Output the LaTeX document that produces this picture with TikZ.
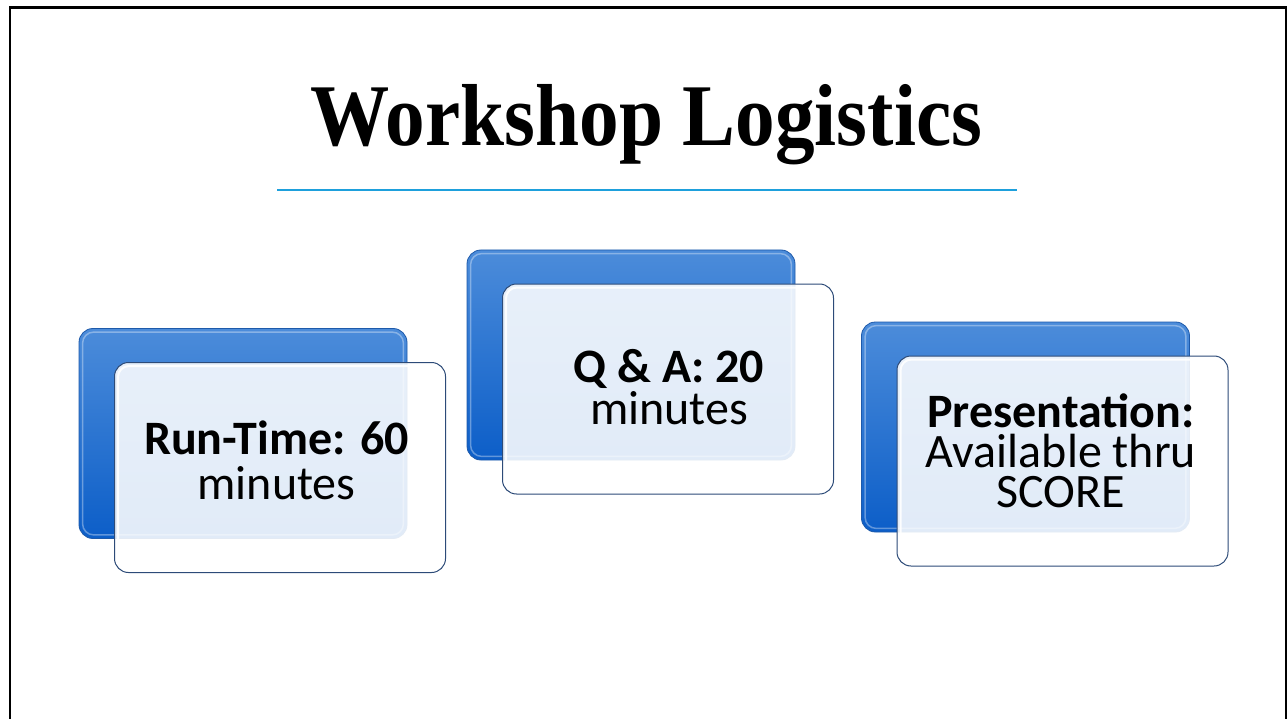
\documentclass[tikz,border=0pt]{standalone}
\usepackage{fontspec}
\usepackage{tikz}
\usetikzlibrary{calc, positioning}
\newfontfamily\titlefont{Liberation Serif}
\newfontfamily\cardfont{Carlito}
\definecolor{backtop}{RGB}{76,140,218}
\definecolor{backbot}{RGB}{12,94,200}
\definecolor{backline}{RGB}{30,90,170}
\definecolor{frontline}{RGB}{45,75,120}
\definecolor{ruleblue}{RGB}{30,160,220}

\begin{document}
\begin{tikzpicture}[x=1pt, y=-1pt,
    backcard/.style={rectangle, rounded corners=14pt, minimum width=328pt, minimum height=210pt,
        top color=backtop, bottom color=backbot, draw=backline, line width=0.8pt},
    frontcard/.style={rectangle, rounded corners=14pt, minimum width=331pt, minimum height=210pt,
        fill=white, fill opacity=0.88, draw=frontline, line width=1pt},
    cardtext/.style={align=center, inner sep=0pt, font=\cardfont\fontsize{48}{#1}\selectfont},
    cardtext/.default=42]

    % Page
    \useasboundingbox (0,0) rectangle (1287,719);
    \clip (0,0) rectangle (1287,719);
    \fill[white] (0,0) rectangle (1287,719);
    \draw[line width=2.5pt] (10,760) -- (10,7.5) -- (1286,7.5) -- (1286,760);

    % Title
    \node[font=\titlefont\bfseries\fontsize{88}{88}\selectfont, xscale=0.9, anchor=base] (title) at (646.5,146) {Workshop Logistics};
    \coordinate (ruleL) at (277,190);
    \coordinate (ruleR) at (1017,190);
    \draw[ruleblue, line width=2pt] (ruleL) -- (ruleR);

    % Card 1
    \node[backcard] (B1) at (243,433.5) {};
    \draw[white, opacity=0.35, line width=1.5pt, rounded corners=11pt] ($(B1.north west)+(4,4)$) rectangle ($(B1.south east)+(-4,-4)$);
    \node[frontcard] (F1) at ($(B1.center)+(37,34)$) {};
    \draw[white, opacity=0.9, line width=2pt, rounded corners=11pt] ($(F1.north west)+(4,4)$) rectangle ($(F1.south east)+(-4,-4)$);
    \node[cardtext=45] (T1) at ($(F1.center)+(-3.5,-7)$) {\textbf{Run-Time: 60}\\minutes};

    % Card 2
    \node[backcard] (B2) at (631,355) {};
    \draw[white, opacity=0.35, line width=1.5pt, rounded corners=11pt] ($(B2.north west)+(4,4)$) rectangle ($(B2.south east)+(-4,-4)$);
    \node[frontcard] (F2) at ($(B2.center)+(37,34)$) {};
    \draw[white, opacity=0.9, line width=2pt, rounded corners=11pt] ($(F2.north west)+(4,4)$) rectangle ($(F2.south east)+(-4,-4)$);
    \node[cardtext] (T2) at ($(F2.center)+(1,-2)$) {\textbf{Q \& A: 20}\\minutes};

    % Card 3
    \node[backcard] (B3) at (1025.5,427) {};
    \draw[white, opacity=0.35, line width=1.5pt, rounded corners=11pt] ($(B3.north west)+(4,4)$) rectangle ($(B3.south east)+(-4,-4)$);
    \node[frontcard] (F3) at ($(B3.center)+(37,34)$) {};
    \draw[white, opacity=0.9, line width=2pt, rounded corners=11pt] ($(F3.north west)+(4,4)$) rectangle ($(F3.south east)+(-4,-4)$);
    \node[cardtext=40] (T3) at ($(F3.center)+(-1.5,-10)$) {\textbf{Presentation:}\\Available thru\\SCORE};

\end{tikzpicture}
\end{document}
